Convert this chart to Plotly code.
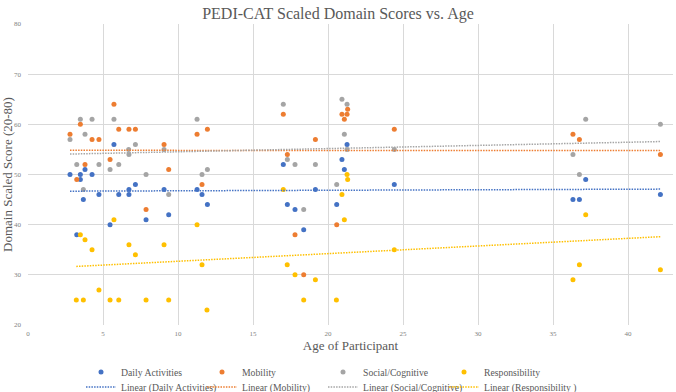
import numpy as np
import plotly.graph_objects as go

# ---- data ----
daily_x = [2.8, 3.25, 3.49, 3.49, 3.69, 3.8, 4.27, 4.73, 5.47, 5.73, 6.05, 6.73, 6.73, 7.16, 7.87, 9.07, 9.38,
           11.27, 11.6, 11.96, 17.02, 17.29, 17.8, 18.38, 19.16, 20.58, 20.93, 21.09, 21.27, 24.42, 36.33, 36.76,
           37.18, 42.16]
daily_y = [50, 38, 50, 49, 45, 51, 50, 46, 40, 56, 46, 47, 46, 48, 41, 47, 42,
           47, 46, 44, 52, 44, 43, 39, 47, 44, 53, 51, 56, 48, 45, 45,
           49, 46]

mob_x = [2.8, 3.25, 3.49, 3.8, 4.27, 4.73, 5.47, 5.73, 6.05, 6.73, 7.16, 7.87, 9.07, 9.38,
         11.27, 11.6, 11.96, 17.02, 17.29, 17.8, 18.38, 19.16, 20.58, 20.93, 21.09, 21.27, 21.31,
         24.42, 36.33, 36.76, 42.16]
mob_y = [58, 49, 60, 52, 57, 57, 53, 64, 59, 59, 59, 43, 56, 51,
         58, 48, 59, 62, 54, 38, 30, 57, 40, 62, 61, 62, 63,
         59, 58, 57, 54]

soc_x = [2.8, 3.25, 3.49, 3.69, 3.8, 4.27, 4.73, 5.47, 5.73, 6.05, 6.71, 6.73, 7.16, 7.87, 9.07, 9.38,
         11.27, 11.6, 11.96, 17.02, 17.29, 17.8, 18.38, 19.16, 20.58, 20.93, 21.09, 21.27, 21.27,
         24.42, 36.33, 36.76, 37.18, 42.16]
soc_y = [57, 52, 61, 47, 58, 61, 52, 51, 61, 52, 55, 54, 56, 50, 55, 46,
         61, 50, 51, 64, 53, 52, 43, 52, 48, 65, 58, 64, 55,
         55, 54, 50, 61, 60]

resp_x = [3.22, 3.49, 3.69, 3.8, 4.27, 4.73, 5.47, 5.73, 6.05, 6.73, 7.16, 7.87, 9.07, 9.38,
          11.27, 11.6, 11.93, 17.02, 17.28, 17.8, 18.38, 19.16, 20.56, 20.93, 21.09, 21.27, 21.31,
          24.42, 36.33, 36.76, 37.18, 42.16]
resp_y = [25, 38, 25, 37, 35, 27, 25, 41, 25, 36, 34, 25, 36, 25,
          40, 32, 23, 47, 32, 30, 25, 29, 25, 46, 41, 50, 49,
          35, 29, 32, 42, 31]

series = [
    ("Daily Activities", daily_x, daily_y, "#4472C4", "Linear (Daily Activities)"),
    ("Mobility", mob_x, mob_y, "#ED7D31", "Linear (Mobility)"),
    ("Social/Cognitive", soc_x, soc_y, "#A5A5A5", "Linear (Social/Cognitive)"),
    ("Responsibility", resp_x, resp_y, "#FFC000", "Linear (Responsibility )"),
]

x_ticks = [0, 5, 10, 15, 20, 25, 30, 35, 40]
y_ticks = [20, 30, 40, 50, 60, 70, 80]

FONT = "Liberation Serif, Times New Roman, serif"
TXT = "#595959"

fig = go.Figure()
for name, xs, ys, col, _ in series:
    fig.add_trace(go.Scatter(x=xs, y=ys, mode="markers", name=name,
                             marker=dict(color=col, size=5, line=dict(width=0)),
                             legend="legend"))
for name, xs, ys, col, lname in series:
    xa = np.array(xs, float)
    ya = np.array(ys, float)
    m, b = np.polyfit(xa, ya, 1)
    lx = np.array([xa.min(), xa.max()])
    fig.add_trace(go.Scatter(x=lx, y=m * lx + b, mode="lines", name=lname,
                             line=dict(color=col, width=1.5, dash="1.5px,1.2px"),
                             legend="legend2"))
# invisible spacer entries so the last legend labels are not clipped
for lg in ("legend", "legend2"):
    fig.add_trace(go.Scatter(x=[None], y=[None], mode="lines", name=" ",
                             line=dict(color="rgba(0,0,0,0)", width=0),
                             legend=lg, hoverinfo="skip"))

axis_common = dict(showgrid=True, gridcolor="#d9d9d9", gridwidth=1, zeroline=False,
                   showline=False, ticks="", tickfont=dict(family=FONT, size=7, color="#7f7f7f"))

leg_common = dict(orientation="h", x=(81 - 28) / 645, xanchor="left", yanchor="middle",
                  entrywidth=76, entrywidthmode="pixels",
                  font=dict(family=FONT, size=9.7, color=TXT),
                  bgcolor="rgba(0,0,0,0)", itemclick=False)

fig.update_layout(
    width=676, height=392,
    margin=dict(l=28, r=3, t=24, b=67, autoexpand=False),
    paper_bgcolor="white", plot_bgcolor="white",
    font=dict(family=FONT, color=TXT),
    title=dict(text="PEDI-CAT Scaled Domain Scores vs. Age", x=0.5, xanchor="center",
               y=1 - 13 / 392, yanchor="middle", font=dict(family=FONT, size=16, color=TXT)),
    xaxis=dict(range=[0, 43], tickvals=x_ticks, ticklabelstandoff=3,
               title=dict(text="Age of Participant", font=dict(family=FONT, size=13, color=TXT), standoff=1),
               **axis_common),
    yaxis=dict(range=[20, 80], tickvals=y_ticks, ticklabelstandoff=6,
               title=dict(text="Domain Scaled Score (20-80)", font=dict(family=FONT, size=13, color=TXT), standoff=0),
               **axis_common),
    legend=dict(y=(325 - 372) / 301, **leg_common),
    legend2=dict(y=(325 - 387) / 301, **leg_common),
    showlegend=True,
)

fig.write_html("out.html")
